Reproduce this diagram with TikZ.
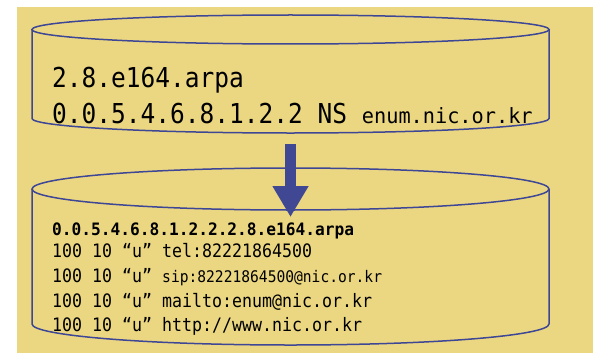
\documentclass[tikz,border=0pt]{standalone}
\usepackage{fontspec}
\usetikzlibrary{arrows.meta}
\newfontfamily\fa[FakeStretch=0.894]{DejaVu Sans Mono}
\newfontfamily\fb[FakeStretch=0.965]{DejaVu Sans Mono}
\newfontfamily\fc[FakeStretch=0.946]{DejaVu Sans Mono}
\newfontfamily\fd[FakeStretch=0.898]{DejaVu Sans Mono}
\newfontfamily\fe[FakeStretch=0.913]{DejaVu Sans Mono}
\definecolor{bgyellow}{RGB}{235,215,130}
\definecolor{cylblue}{RGB}{62,70,150}
\definecolor{arrblue}{RGB}{64,72,148}
\begin{document}
\begin{tikzpicture}[x=1pt,y=-1pt,
  cylline/.style={draw=cylblue,line width=1.5pt},
  txt/.style={anchor=base west,inner sep=0pt,text=black},
  bigf/.style={font=\fa\fontsize{27.4}{30}\selectfont},
  recf/.style={font=\fd\fontsize{18.5}{20}\selectfont}]
\useasboundingbox (0,0) rectangle (593,353);
\fill[bgyellow] (17,7) rectangle (593,353);
% upper cylinder
\draw[cylline] (290.5,29.5) ellipse [x radius=258.5, y radius=14.5];
\draw[cylline] (32,29.5) -- (32,118.5) arc[start angle=180, end angle=0, x radius=258.5, y radius=14.5] -- (549,29.5);
% lower cylinder
\draw[cylline] (290.5,189) ellipse [x radius=258.5, y radius=21];
\draw[cylline] (32,189) -- (32,324) arc[start angle=180, end angle=0, x radius=258.5, y radius=21] -- (549,189);
% texts upper
\node[txt,bigf] (t1) at (52,87) {2.8.e164.arpa};
\node[txt,bigf] (t2) at (52,123) {0.0.5.4.6.8.1.2.2 NS {\fb\fontsize{21}{24}\selectfont enum.nic.or.kr}};
% texts lower
\node[txt,font=\fc\bfseries\fontsize{17.1}{20}\selectfont] (b0) at (52,235) {0.0.5.4.6.8.1.2.2.2.8.e164.arpa};
\node[txt,recf] (b1) at (52,257) {100 10 “u” tel:82221864500};
\node[txt,recf] (b2) at (52,282) {100 10 “u” {\fe\fontsize{16}{18}\selectfont sip:82221864500@nic.or.kr}};
\node[txt,recf] (b3) at (52,307) {100 10 “u” mailto:enum@nic.or.kr};
\node[txt,recf] (b4) at (52,331) {100 10 “u” http://www.nic.or.kr};
% arrow
\coordinate (arrs) at (290.5,144);
\coordinate (arre) at (290.5,217);
\draw[arrblue,line width=11pt,-{Triangle[width=34pt,length=31pt]}] (arrs) -- (arre);
\end{tikzpicture}
\end{document}
